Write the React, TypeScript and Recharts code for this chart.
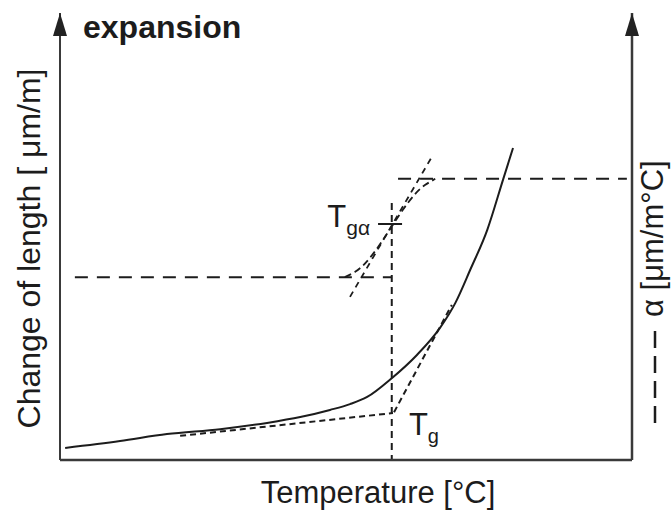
import { LineChart, Line, XAxis, YAxis, ReferenceDot, ReferenceLine } from 'recharts';

const FONT = '"Liberation Sans", Arial, Helvetica, sans-serif';
const INK = '#1c1c1c';
const AXIS = '#3a3a3a';

// schematic units: temperature 0-100 (x), length / alpha 0-100 (y)
const lengthCurve: [number, number][] = [
  [0.9, 2.7], [10.5, 4.25], [18.7, 5.8], [28.0, 6.9], [36.2, 8.3], [42.0, 9.6],
  [47.2, 11.2], [50.7, 12.5], [53.7, 14.1], [58.0, 18.3], [62.4, 23.5], [66.4, 29.5],
  [69.1, 35.1], [71.7, 42.5], [74.7, 51.5], [77.5, 62.9], [79.2, 69.8],
];
const glassyTangent: [number, number][] = [[21.0, 5.4], [58.2, 10.5]];
const rubberyTangent: [number, number][] = [[58.4, 10.7], [68.5, 34.7]];
const tgMarker: [number, number][] = [[58.0, 57.5], [58.0, -1]];

const alphaLow: [number, number][] = [[2.6, 40.9], [58.0, 40.9]];
const alphaHigh: [number, number][] = [[59.1, 62.9], [99.1, 62.9]];
const alphaStep: [number, number][] = [[49.8, 40.9], [51.6, 42.1], [63.8, 61.5], [65.6, 62.9]];
const alphaTangent: [number, number][] = [[50.7, 36.5], [65.0, 67.8]];
const tgAlphaTick: [number, number][] = [[55.6, 52.8], [59.8, 52.8]];

const xRange = [0, 100];
const yRange = [0, 100];

const toPts = (a: [number, number][]) => a.map(([x, y]) => ({ x, y }));

const arrowHead = (p: any) => (
  <polygon
    points={`${p.cx},${p.cy} ${p.cx - 7},${p.cy + 23} ${p.cx + 7},${p.cy + 23}`}
    fill="#222"
  />
);

const tgLabel = (p: any) => (
  <text x={p.cx + 16} y={p.cy + 22} fontFamily={FONT} fill={INK}>
    <tspan fontSize={31}>T</tspan>
    <tspan fontSize={20} dy={8}>g</tspan>
  </text>
);

const tgAlphaLabel = (p: any) => (
  <text x={p.cx - 8} y={p.cy + 3} fontFamily={FONT} fill={INK} textAnchor="end">
    <tspan fontSize={31}>T</tspan>
    <tspan fontSize={21} dy={8}>gα</tspan>
  </text>
);

const leftTitle = ({ viewBox }: any) => {
  const cx = viewBox.x - 20;
  const cy = viewBox.y + viewBox.height / 2 + 12;
  return (
    <g>
      <text x={cx} y={cy} transform={`rotate(-90 ${cx} ${cy})`} textAnchor="middle"
        fontSize={32} fontFamily={FONT} fill={INK}>
        Change of length [ μm/m]
      </text>
      <text x={viewBox.x + 23} y={viewBox.y + 25} fontSize={32} fontWeight="bold" fontFamily={FONT} fill={INK}>
        expansion
      </text>
    </g>
  );
};

const rightTitle = ({ viewBox }: any) => {
  const bx = viewBox.x + 31;
  const by = viewBox.y + viewBox.height - 143;
  const lx = viewBox.x + 23;
  return (
    <g>
      <text x={bx} y={by} transform={`rotate(-90 ${bx} ${by})`} textAnchor="start"
        fontSize={31} fontFamily={FONT} fill={INK}>
        α [μm/m°C]
      </text>
      <line x1={lx} x2={lx} y1={viewBox.y + viewBox.height - 37} y2={viewBox.y + viewBox.height - 131}
        stroke={INK} strokeWidth={2.5} strokeDasharray="17 8" />
    </g>
  );
};

const bottomTitle = ({ viewBox }: any) => (
  <text x={viewBox.x + viewBox.width / 2 + 32} y={viewBox.y + 43} textAnchor="middle"
    fontSize={31} fontFamily={FONT} fill={INK}>
    Temperature [°C]
  </text>
);

export default function App() {
  const common = { dot: false, activeDot: false, isAnimationActive: false, dataKey: 'y' } as const;
  return (
    <div style={{ position: 'absolute', left: 0, top: 0, background: '#fff' }}>
      <LineChart width={671} height={510} margin={{ top: 13, right: 39, bottom: 50, left: 60 }}>
        <XAxis dataKey="x" type="number" domain={xRange} allowDataOverflow hide />
        <YAxis yAxisId="len" type="number" domain={yRange} allowDataOverflow hide />
        <YAxis yAxisId="alpha" orientation="right" type="number" domain={yRange} allowDataOverflow hide />

        <Line yAxisId="len" data={toPts(glassyTangent)} type="linear" stroke={INK} strokeWidth={2} strokeDasharray="6 4" {...common} />
        <Line yAxisId="len" data={toPts(rubberyTangent)} type="linear" stroke={INK} strokeWidth={2} strokeDasharray="6 4" {...common} />
        <Line yAxisId="len" data={toPts(tgMarker)} type="linear" stroke={INK} strokeWidth={2} strokeDasharray="7 5" {...common} />
        <Line yAxisId="len" data={toPts(lengthCurve)} type="monotone" stroke={INK} strokeWidth={2} {...common} />

        <Line yAxisId="alpha" data={toPts(alphaLow)} type="linear" stroke={INK} strokeWidth={2} strokeDasharray="13 9" {...common} />
        <Line yAxisId="alpha" data={toPts(alphaHigh)} type="linear" stroke={INK} strokeWidth={2} strokeDasharray="13 9" {...common} />
        <Line yAxisId="alpha" data={toPts(alphaStep)} type="monotone" stroke={INK} strokeWidth={1.8} strokeDasharray="7 4" {...common} />
        <Line yAxisId="alpha" data={toPts(alphaTangent)} type="linear" stroke={INK} strokeWidth={1.8} strokeDasharray="6 5" {...common} />
        <Line yAxisId="alpha" data={toPts(tgAlphaTick)} type="linear" stroke={INK} strokeWidth={2} {...common} />

        {/* axes drawn as reference lines so they can carry arrowheads and titles */}
        <ReferenceLine yAxisId="len" y={yRange[0]} stroke={AXIS} strokeWidth={2.5} ifOverflow="visible"
          label={{ content: bottomTitle }} />
        <ReferenceLine yAxisId="len" x={xRange[0]} stroke={AXIS} strokeWidth={2} ifOverflow="visible"
          label={{ content: leftTitle }} />
        <ReferenceLine yAxisId="alpha" x={xRange[1]} stroke={AXIS} strokeWidth={2.5} ifOverflow="visible"
          label={{ content: rightTitle }} />

        <ReferenceDot yAxisId="len" x={xRange[0]} y={yRange[1]} r={1} shape={arrowHead} ifOverflow="visible" />
        <ReferenceDot yAxisId="len" x={xRange[1]} y={yRange[1]} r={1} shape={arrowHead} ifOverflow="visible" />
        <ReferenceDot yAxisId="len" x={glassyTangent[1][0]} y={glassyTangent[1][1]} r={1} shape={tgLabel} />
        <ReferenceDot yAxisId="alpha" x={tgAlphaTick[0][0]} y={tgAlphaTick[0][1]} r={1} shape={tgAlphaLabel} />
      </LineChart>
    </div>
  );
}
